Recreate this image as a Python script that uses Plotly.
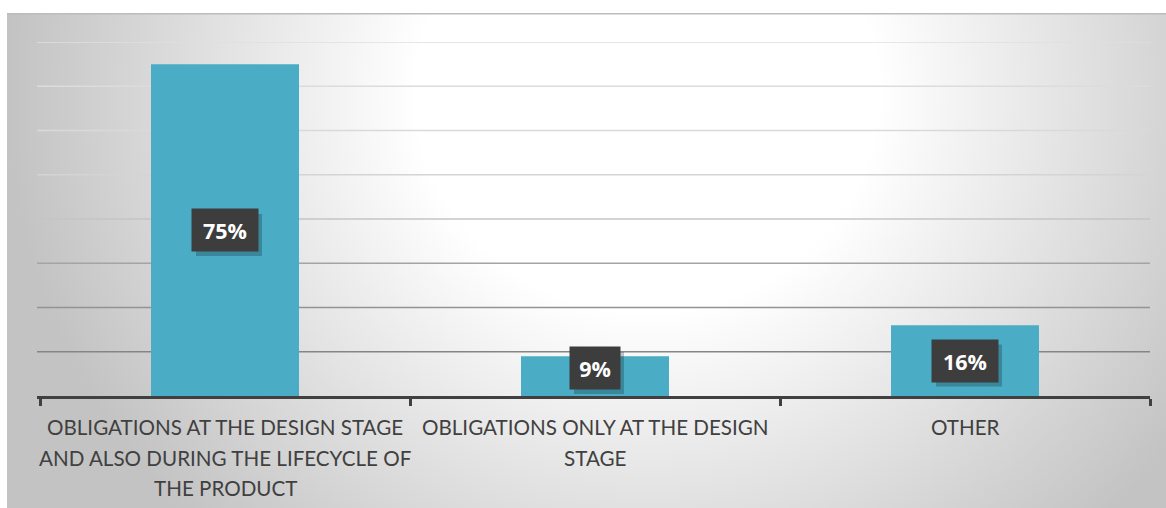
import base64
import plotly.graph_objects as go

# ---- data ----
categories = [
    "OBLIGATIONS AT THE DESIGN STAGE<br>AND ALSO DURING THE LIFECYCLE OF<br>THE PRODUCT",
    "OBLIGATIONS ONLY AT THE DESIGN<br>STAGE",
    "OTHER",
]
values = [75, 9, 16]
value_labels = ["75%", "9%", "16%"]
grid_levels = [10, 20, 30, 40, 50, 60, 70, 80]

# ---- styles ----
W, H = 1166, 508
ML, MR, MT, MB = 37, 16, 42, 112
grid_colors = ["#858585", "#939393", "#a4a4a4", "#c4c4c4",
               "#d4d4d4", "#d9d9d9", "#dcdcdc", "#dfdfdf"]
bar_color = "#4bacc6"
text_color = "#404040"
min_label_y = 6.3
first_line_offset = 31
line_step = 30.5

pw, ph = W - ML - MR, H - MT - MB
bx0, by0, bx1, by1 = 7, 13, W, H
bw, bh = bx1 - bx0, by1 - by0
svg = f'''<svg xmlns="http://www.w3.org/2000/svg" width="{bw}" height="{bh}" viewBox="0 0 {bw} {bh}" preserveAspectRatio="none">
<defs><radialGradient id="g" gradientUnits="userSpaceOnUse" cx="640" cy="80" r="640"
 gradientTransform="translate(640 80) scale(1 0.95) translate(-640 -80)">
<stop offset="0" stop-color="#ffffff"/><stop offset="0.36" stop-color="#ffffff"/>
<stop offset="1" stop-color="#c3c3c3"/></radialGradient></defs>
<rect width="{bw}" height="{bh}" fill="url(#g)"/>
<rect x="0" y="0" width="{bw}" height="1.5" fill="#bcbcbc"/></svg>'''
src = "data:image/svg+xml;base64," + base64.b64encode(svg.encode()).decode()

fig = go.Figure()
fig.add_trace(go.Bar(
    x=categories, y=values, marker=dict(color=bar_color, line=dict(width=0)),
    hoverinfo="skip", width=0.4,
))

shapes = []
for lvl, col in zip(grid_levels, grid_colors):
    shapes.append(dict(type="line", xref="paper", yref="y", x0=0, x1=1, y0=lvl, y1=lvl,
                       line=dict(color=col, width=1.5), layer="below"))

annotations = []
for cat, v, t in zip(categories, values, value_labels):
    ly = max(v / 2, min_label_y)
    wbox = 16 * len(t) + 4
    half_w = wbox / 2 + 7
    shapes.append(dict(type="rect", xref="x", yref="y", xsizemode="pixel", ysizemode="pixel",
                       xanchor=cat, yanchor=ly, x0=-half_w + 4, x1=half_w + 4, y0=-21 - 5, y1=21 - 5,
                       fillcolor="rgba(0,0,0,0.22)", line=dict(width=0), layer="above"))
    annotations.append(dict(x=cat, y=ly, xref="x", yref="y", text=f"<b>{t}</b>", showarrow=False,
                            font=dict(family="Open Sans", size=21.5, color="#ffffff"),
                            bgcolor="#3d3d3d", borderpad=7, width=wbox, height=28))
    # category label, one annotation per line for Office-like line spacing
    for i, line in enumerate(cat.split("<br>")):
        annotations.append(dict(x=cat, y=0, xref="x", yref="paper", text=line, showarrow=False,
                                xanchor="center", yanchor="middle",
                                yshift=-(first_line_offset + i * line_step),
                                font=dict(family="Lato", size=20.6, color=text_color)))

fig.update_layout(
    width=W, height=H,
    margin=dict(l=ML, r=MR, t=MT, b=MB, pad=0, autoexpand=False),
    paper_bgcolor="#ffffff", plot_bgcolor="rgba(0,0,0,0)",
    showlegend=False, bargap=0.6,
    font=dict(family="Lato", color=text_color),
    xaxis=dict(type="category", showgrid=False, showline=True, linecolor=text_color, linewidth=3,
               ticks="outside", tickson="boundaries", ticklen=7, tickwidth=3, tickcolor=text_color,
               showticklabels=False, automargin=False, fixedrange=True),
    yaxis=dict(range=[0, 80], showgrid=False, showticklabels=False, zeroline=False,
               showline=False, fixedrange=True),
    shapes=shapes, annotations=annotations,
    images=[dict(source=src, xref="paper", yref="paper",
                 x=(bx0 - ML) / pw, y=(MT + ph - by0) / ph,
                 sizex=bw / pw, sizey=bh / ph, sizing="stretch",
                 xanchor="left", yanchor="top", layer="below")],
)

fig.write_html("out.html", config={"displayModeBar": False},
               post_script="document.body.style.margin='0';document.body.style.overflow='hidden';")
